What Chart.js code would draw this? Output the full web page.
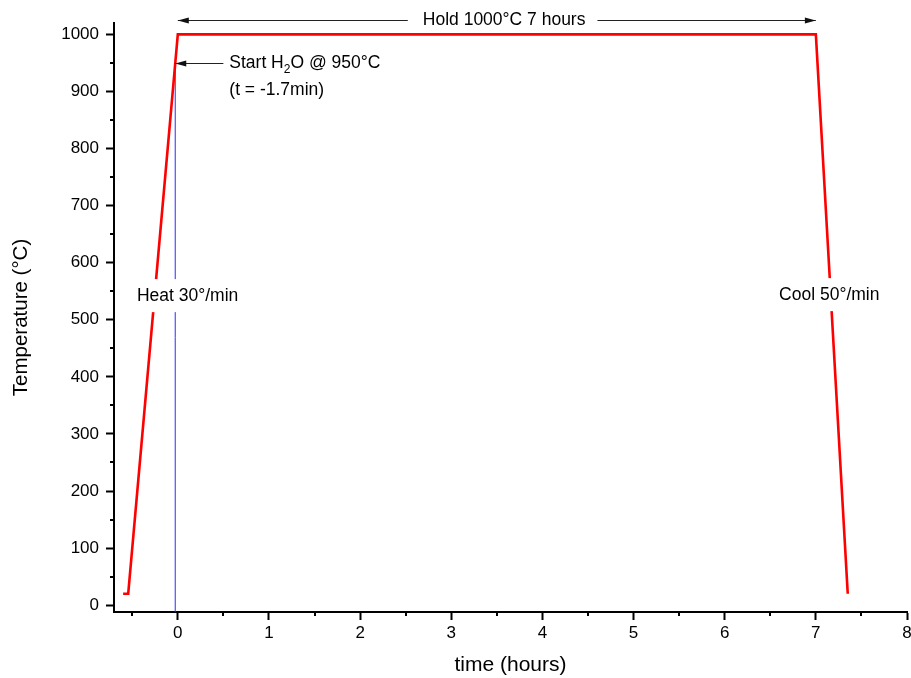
<!DOCTYPE html>
<html>
<head>
<meta charset="utf-8">
<script src="https://cdn.jsdelivr.net/npm/chart.js@4/dist/chart.umd.min.js"></script>
<style>
  html, body { margin: 0; padding: 0; background: #fff; }
  #wrap { width: 911px; height: 678px; position: relative; }
</style>
</head>
<body>
<div id="wrap"><canvas id="c" width="911" height="678"></canvas></div>
<script>
// ---- data ----
const timeHours   = [-0.6, -0.544, 0, 7, 7.35];
const temperature = [20, 20, 1000, 1000, 20];
const waterStartHours = -1.7 / 60;          // t = -1.7 min
const waterLineTemps  = [-12, 950];
const xTicks = [0, 1, 2, 3, 4, 5, 6, 7, 8];
const yTicks = [0, 100, 200, 300, 400, 500, 600, 700, 800, 900, 1000];
const xMinorTicks = [-0.5, 0.5, 1.5, 2.5, 3.5, 4.5, 5.5, 6.5, 7.5];
const yMinorTicks = [50, 150, 250, 350, 450, 550, 650, 750, 850, 950];

const FONT = "'Liberation Sans', Arial, sans-serif";

const minorTicksPlugin = {
  id: 'minorTicks',
  afterDraw(chart) {
    const ctx = chart.ctx, xs = chart.scales.x, ys = chart.scales.y;
    ctx.save();
    ctx.strokeStyle = '#000';
    ctx.lineWidth = 2;
    const bottom = chart.chartArea.bottom, left = chart.chartArea.left;
    xMinorTicks.forEach(v => {
      const px = Math.round(xs.getPixelForValue(v));
      ctx.beginPath(); ctx.moveTo(px, bottom); ctx.lineTo(px, bottom + 4); ctx.stroke();
    });
    yMinorTicks.forEach(v => {
      const py = Math.round(ys.getPixelForValue(v));
      ctx.beginPath(); ctx.moveTo(left, py); ctx.lineTo(left - 4, py); ctx.stroke();
    });
    ctx.restore();
  }
};

function arrowHead(ctx, x, y, dir) {
  ctx.beginPath();
  ctx.moveTo(x, y);
  ctx.lineTo(x - dir * 11, y - 3);
  ctx.lineTo(x - dir * 11, y + 3);
  ctx.closePath();
  ctx.fill();
}

const annotationPlugin = {
  id: 'annots',
  afterDatasetsDraw(chart) {
    const ctx = chart.ctx, xs = chart.scales.x, ys = chart.scales.y;
    ctx.save();
    ctx.fillStyle = '#000';
    ctx.strokeStyle = '#222';
    ctx.lineWidth = 1;
    ctx.font = '17.5px ' + FONT;
    ctx.textBaseline = 'middle';

    // Hold arrow
    const hy = Math.round(ys.getPixelForValue(1025)) + 0.5;
    const hx0 = xs.getPixelForValue(0), hx1 = xs.getPixelForValue(7);
    const label = 'Hold 1000°C 7 hours';
    const hcx = xs.getPixelForValue(3.58);
    const tw = ctx.measureText(label).width;
    ctx.textAlign = 'center';
    ctx.fillText(label, hcx, hy);
    ctx.beginPath();
    ctx.moveTo(hx0, hy); ctx.lineTo(hcx - tw / 2 - 15, hy);
    ctx.moveTo(hcx + tw / 2 + 12, hy); ctx.lineTo(hx1, hy);
    ctx.stroke();
    ctx.fillStyle = '#111';
    arrowHead(ctx, hx0, hy, -1);
    arrowHead(ctx, hx1, hy, 1);

    // Start H2O arrow
    const sy = Math.round(ys.getPixelForValue(950)) + 0.5;
    const sx0 = xs.getPixelForValue(waterStartHours);
    const sx1 = xs.getPixelForValue(0.5);
    ctx.beginPath(); ctx.moveTo(sx0, sy); ctx.lineTo(sx1, sy); ctx.stroke();
    arrowHead(ctx, sx0, sy, -1);
    ctx.fillStyle = '#000';
    ctx.textAlign = 'left';
    let tx = xs.getPixelForValue(0.565);
    const p1 = 'Start H';
    ctx.fillText(p1, tx, sy);
    tx += ctx.measureText(p1).width;
    ctx.font = '12px ' + FONT;
    ctx.fillText('2', tx, sy + 6);
    tx += ctx.measureText('2').width;
    ctx.font = '17.5px ' + FONT;
    ctx.fillText('O @ 950°C', tx, sy);
    ctx.fillText('(t = -1.7min)', xs.getPixelForValue(0.565), ys.getPixelForValue(902));

    // Heat / Cool labels with white background
    function boxed(text, xv, yv) {
      const cx = xs.getPixelForValue(xv), cy = ys.getPixelForValue(yv);
      const w = ctx.measureText(text).width;
      ctx.fillStyle = '#fff';
      ctx.fillRect(cx - w / 2 - 4, cy - 17, w + 8, 33);
      ctx.fillStyle = '#000';
      ctx.textAlign = 'center';
      ctx.fillText(text, cx, cy);
    }
    boxed('Heat 30°/min', (187.5 - 177.7) / 91.1, (604.9 - 296) / 0.5705);
    boxed('Cool 50°/min', (828.8 - 177.7) / 91.1, (604.9 - 295) / 0.5705);
    ctx.restore();
  }
};

new Chart(document.getElementById('c'), {
  type: 'scatter',
  data: {
    datasets: [
      {
        data: timeHours.map((t, i) => ({ x: t, y: temperature[i] })),
        showLine: true,
        borderColor: '#ff0000',
        borderWidth: 2.6,
        pointRadius: 0,
        tension: 0,
        clip: false
      },
      {
        data: waterLineTemps.map(v => ({ x: waterStartHours, y: v })),
        showLine: true,
        borderColor: '#2a2aff',
        borderWidth: 1,
        pointRadius: 0,
        clip: false
      }
    ]
  },
  options: {
    responsive: false,
    animation: false,
    devicePixelRatio: 1,
    layout: { padding: { left: 0, top: 23, right: 4, bottom: 0 } },
    plugins: { legend: { display: false }, tooltip: { enabled: false } },
    scales: {
      x: {
        type: 'linear',
        min: -0.7, max: 8,
        afterBuildTicks: s => { s.ticks = xTicks.map(v => ({ value: v })); },
        afterFit: s => { s.height = 66; s.paddingRight = 0; s.paddingLeft = 0; },
        grid: { drawOnChartArea: false, drawTicks: true, tickLength: 8, tickWidth: 2, tickColor: '#000' },
        border: { display: true, color: '#000', width: 2 },
        ticks: { color: '#000', font: { family: FONT, size: 17 }, padding: 3, maxRotation: 0, callback: v => String(v) },
        title: { display: true, text: 'time (hours)', color: '#000', font: { family: FONT, size: 21 }, padding: { top: 0, bottom: 0 } }
      },
      y: {
        type: 'linear',
        min: -12, max: 1020,
        afterBuildTicks: s => { s.ticks = yTicks.map(v => ({ value: v })); },
        afterFit: s => { s.width = 114; s.paddingTop = 0; s.paddingBottom = 0; },
        grid: { drawOnChartArea: false, drawTicks: true, tickLength: 8, tickWidth: 2, tickColor: '#000' },
        border: { display: true, color: '#000', width: 2 },
        ticks: { color: '#000', font: { family: FONT, size: 17 }, padding: 7, callback: v => String(v) },
        title: { display: true, text: 'Temperature (°C)', color: '#000', font: { family: FONT, size: 20.5 }, padding: { top: 9, bottom: 0 } }
      }
    }
  },
  plugins: [minorTicksPlugin, annotationPlugin]
});
</script>
</body>
</html>
